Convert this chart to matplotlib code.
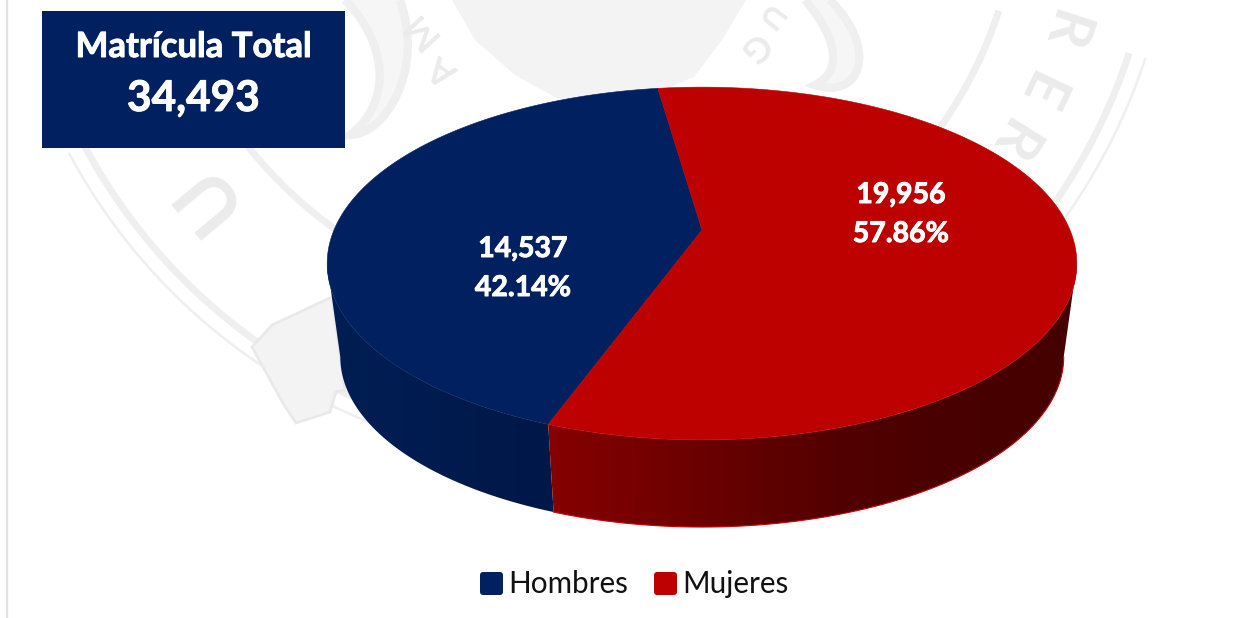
import numpy as np
import matplotlib
matplotlib.use("Agg")
import matplotlib.pyplot as plt
import matplotlib.patheffects as pe
from matplotlib.colors import LinearSegmentedColormap
from matplotlib.patches import Polygon, Rectangle, FancyBboxPatch, Arc, PathPatch
from matplotlib.path import Path

# ---------------- Data ----------------
categories = ["Hombres", "Mujeres"]
values = [14537, 19956]
total_label = "Matrícula Total"

# ---------------- Style ----------------
navy = "#002060"
red = "#bd0000"
seal = "#efefef"
font = "Lato"
# Lato bold is lighter than the reference face, thicken it a little
heavy = [pe.withStroke(linewidth=0.7, foreground="white")]

# ---------------- Figure, axes in image pixels ----------------
fig = plt.figure(figsize=(12.52, 6.18), dpi=100, facecolor="white")
ax = fig.add_axes([0, 0, 1, 1])

ax.plot([6.5, 6.5], [0, 618], color="#e2e2e2", lw=1.6, zorder=1)

# ---------------- Background seal ----------------
seal_x, seal_y = 587, -123
for radius, width in [(587, 1.8), (570, 5), (433, 5)]:
    ax.add_patch(Arc((seal_x, seal_y), 2 * radius, 2 * radius, theta1=18, theta2=152,
                     color=seal, lw=width, zorder=1))

map_pts = [(452, 0), (475, 40), (515, 75), (560, 100), (610, 103), (650, 95),
           (694, 77), (722, 40), (746, 0)]
ax.add_patch(Polygon(map_pts, closed=True, fc="#f3f3f3", ec="none", zorder=1))

scroll_pts = [(252, 347), (272, 325), (332, 297), (345, 390), (336, 392), (330, 412),
              (296, 423), (284, 405)]
ax.add_patch(Polygon(scroll_pts, closed=True, fc="#f3f3f3", ec="#e9e9e9", lw=2, zorder=1))

leaf_left = Path([(400, 0), (425, 70), (385, 135), (350, 135), (395, 100), (385, 40), (345, 0)],
                 [Path.MOVETO, Path.CURVE4, Path.CURVE4, Path.CURVE4,
                  Path.CURVE4, Path.CURVE4, Path.CURVE4])
leaf_right = Path([(830, 0), (880, 50), (860, 100), (815, 85), (845, 70), (835, 35), (805, 0)],
                  [Path.MOVETO, Path.CURVE4, Path.CURVE4, Path.CURVE4,
                   Path.CURVE4, Path.CURVE4, Path.CURVE4])
for leaf in (leaf_left, leaf_right):
    ax.add_patch(PathPatch(leaf, fc="#f6f6f6", ec=seal, lw=6, zorder=1))

seal_letters = [("U", 205, 195, 56), ("M", 420, 30, 26), ("A", 444, 70, 26),
                ("G", 754, 47, 26), ("U", 768, 16, 22),
                ("R", 1062, 30, 42), ("E", 1038, 90, 42), ("R", 1010, 140, 42)]
for letter, lx, ly, size in seal_letters:
    # top of each letter points away from the seal centre
    rotation = np.degrees(np.arctan2(lx - seal_x, ly - seal_y)) + 180
    ax.text(lx, ly, letter, color="#ebebeb", fontsize=size, family=font, weight="bold",
            rotation=rotation, ha="center", va="center", zorder=1)


# ---------------- 3D pie projection ----------------
def project(angle, depth=0.0):
    """Angle in radians, counter-clockwise from north. depth 0 top face, 1 bottom face."""
    u, v = -np.sin(angle), np.cos(angle)
    scale = 1 - 0.035 * depth
    w = 1 + 0.19 * v
    x = 702 + 368 * scale * u / w
    y = 230 + 94.5 * depth - 170 * scale * v / w
    return x, y


fractions = np.array(values) / sum(values)
start = np.radians(8.2)
edges = start + 2 * np.pi * np.concatenate([[0], np.cumsum(fractions)])
split = edges[1]

# walls, only the front half shows, between the two side extremes of the ellipse
wall_left, wall_right = np.radians(101), np.radians(259)
wall_parts = [(wall_left, split, [(0, "#001e54"), (1, "#001848")]),
              (split, wall_right, [(0, "#860000"), (0.28, "#6c0000"), (0.55, "#520000"),
                                   (0.75, "#490000"), (1, "#450000")])]
for a0, a1, shades in wall_parts:
    arc = np.linspace(a0, a1, 200)
    xt, yt = project(arc)
    xb, yb = project(arc, 1)
    outline = np.column_stack([np.r_[xt, xb[::-1]], np.r_[yt, yb[::-1]]])
    clip = Polygon(outline, closed=True, fc="none", ec="none", transform=ax.transData)
    ax.add_patch(clip)
    cmap = LinearSegmentedColormap.from_list("wall", shades)
    shade = ax.imshow(np.linspace(0, 1, 256).reshape(1, -1), cmap=cmap, aspect="auto",
                      extent=(outline[:, 0].min(), outline[:, 0].max(), 530, 230), zorder=3)
    shade.set_clip_path(clip)

# thin red rim along the bottom of the red wall
rim = np.linspace(split, wall_right, 80)
ax.plot(*project(rim, 1), color="#d00000", lw=0.8, zorder=3)

# top faces
colors = [navy, red]
for i in range(len(values)):
    arc = np.linspace(edges[i], edges[i + 1], 200)
    xs, ys = project(arc)
    pts = np.column_stack([np.append(xs, 702), np.append(ys, 230)])
    ax.add_patch(Polygon(pts, closed=True, fc=colors[i], ec=colors[i], lw=0.4, zorder=4))

# ---------------- Data labels ----------------
label_pos = [(523, 249, 288), (901, 195, 234)]
for value, frac, (lx, y0, y1) in zip(values, fractions, label_pos):
    ax.text(lx, y0, f"{value:,}", color="white", fontsize=20.5, family=font, weight="bold",
            ha="center", va="center", zorder=5, path_effects=heavy)
    ax.text(lx, y1, f"{frac * 100:.2f}%", color="white", fontsize=20.5, family=font, weight="bold",
            ha="center", va="center", zorder=5, path_effects=heavy)

# ---------------- Total box ----------------
ax.add_patch(Rectangle((42, 11), 303, 137, fc=navy, ec="none", zorder=6))
ax.text(193.5, 47, total_label, color="white", fontsize=25, family=font, weight="bold",
        ha="center", va="center", zorder=7, path_effects=heavy)
ax.text(193.5, 99, f"{sum(values):,}", color="white", fontsize=30.5, family=font, weight="bold",
        ha="center", va="center", zorder=7, path_effects=heavy)

# ---------------- Legend ----------------
for name, color, x0 in zip(categories, colors, [480, 654]):
    ax.add_patch(FancyBboxPatch((x0 + 2, 574), 19, 19, boxstyle="round,pad=2,rounding_size=3",
                                fc=color, ec="none", zorder=5))
    ax.text(x0 + 28, 584, name, color="#111111", fontsize=21.3, family=font,
            ha="left", va="center", zorder=5)

ax.set_xlim(0, 1252)
ax.set_ylim(618, 0)
ax.axis("off")

fig.savefig("out.png", dpi=100)
